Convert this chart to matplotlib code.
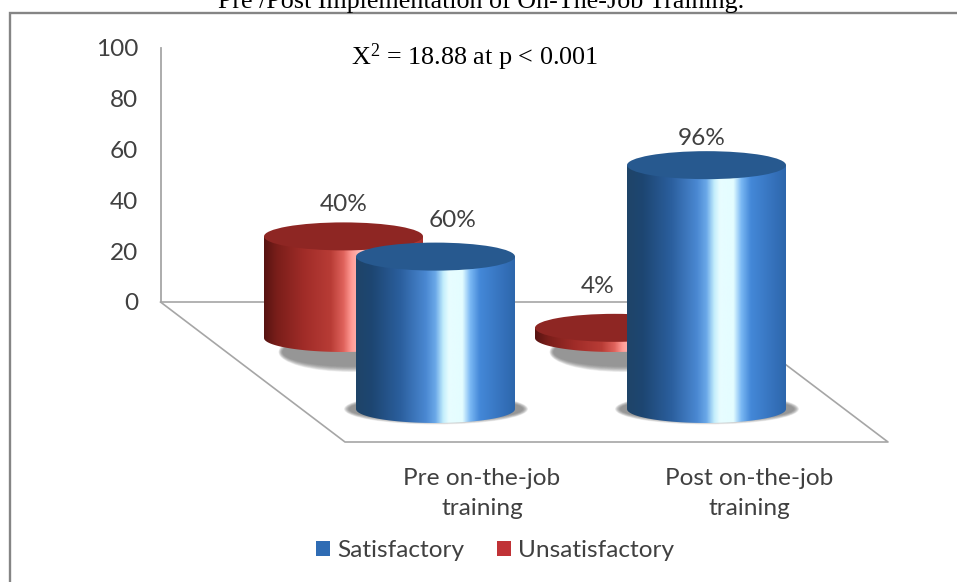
import numpy as np
import matplotlib
matplotlib.use("Agg")
import matplotlib.pyplot as plt
from matplotlib.colors import LinearSegmentedColormap
from matplotlib.patches import Ellipse, Polygon, Rectangle

# ---- data ----
categories = ["Pre on-the-job\ntraining", "Post on-the-job\ntraining"]
series_names = ["Satisfactory", "Unsatisfactory"]
satisfactory = [60, 96]
unsatisfactory = [40, 4]
y_ticks = [0, 20, 40, 60, 80, 100]
title = "Pre /Post Implementation of On-The-Job Training."
stat_text = r"$\mathregular{X^2}$ = 18.88 at p < 0.001"

# ---- layout (pixels of the 957x582 canvas) ----
W, H = 957, 582
PX_X0, PX_DX = 435.5, 271.0     # category 0 centre, category spacing
PX_Y0, PX_DY = 302.0, 2.54      # y=0 on the back wall, pixels per unit
RX, RY = 79.5 / PX_DX, 14.0 / PX_DY
FONT = "Lato"
FS = 17.6
TXT = "#404040"
GRID = "#a6a6a6"

plt.rcParams["mathtext.fontset"] = "custom"
plt.rcParams["mathtext.rm"] = "Liberation Serif"

fig = plt.figure(figsize=(W / 100, H / 100), dpi=100, facecolor="white")
ax = fig.add_axes([0, 0, 1, 1])
ax.set_xlim((0 - PX_X0) / PX_DX, (W - PX_X0) / PX_DX)
ax.set_ylim((PX_Y0 - H) / PX_DY, PX_Y0 / PX_DY)
ax.set_autoscale_on(False)
ax.patch.set_visible(False)


def dx(px):
    return (px - PX_X0) / PX_DX


def dy(py):
    return (PX_Y0 - py) / PX_DY


for s in ("top", "right", "bottom"):
    ax.spines[s].set_visible(False)
ax.spines["left"].set_position(("data", dx(160.5)))
ax.spines["left"].set_bounds(0, 100)
ax.spines["left"].set_color(GRID)
ax.spines["left"].set_linewidth(1.3)
ax.set_xticks([])
ax.set_yticks(y_ticks)
ax.tick_params(axis="y", length=0, pad=16, labelsize=FS, labelcolor=TXT)
for t in ax.get_yticklabels():
    t.set_fontfamily(FONT)

# outer frame: only the top and left edges fall inside the picture
ax.plot([dx(9.5), dx(9.5), dx(957)], [dy(582), dy(13.5), dy(13.5)],
        color="#858585", lw=1.7, zorder=1, solid_joinstyle="miter")

# floor
ax.plot([dx(160.5), dx(703)], [0, 0], color=GRID, lw=1.2, zorder=1)
ax.plot([dx(160.5), dx(345), dx(888), dx(703)], [0, dy(442), dy(442), 0],
        color=GRID, lw=1.2, zorder=1)

blue = LinearSegmentedColormap.from_list("b", [
    (0.0, "#1f4468"), (0.10, "#1d4672"), (0.28, "#2b5f9e"), (0.44, "#4a88d2"),
    (0.50, "#6aa8e8"), (0.55, "#c4eefc"), (0.585, "#e8fdff"), (0.67, "#e4fdff"),
    (0.72, "#7ab8f4"), (0.78, "#4488d8"), (1.0, "#2d66ac")])
red = LinearSegmentedColormap.from_list("r", [
    (0.0, "#571412"), (0.08, "#7a1e1a"), (0.25, "#a02c28"), (0.42, "#b83c36"),
    (0.50, "#df625b"), (0.55, "#ff9a94"), (0.62, "#ffc4c0"), (0.70, "#f07068"),
    (1.0, "#a8302c")])


def shadow(cx, base, rx, ry, sx, z):
    for k in np.linspace(1.0, 0.72, 14):
        ax.add_patch(Ellipse((cx + sx, base), 2 * rx * (k * 0.2 + 0.8), 2 * ry * k,
                             fc="#666666", ec="none", alpha=0.075, zorder=z))


def cylinder(cx, base, value, cmap, top_col, z):
    top = base + value
    t = np.linspace(np.pi, 2 * np.pi, 80)
    pts = [(cx - RX, top)] + list(zip(cx + RX * np.cos(t), base + RY * np.sin(t))) + [(cx + RX, top)]
    clip = Polygon(pts, closed=True, transform=ax.transData)
    grad = np.linspace(0, 1, 256).reshape(1, -1)
    im = ax.imshow(grad, cmap=cmap, extent=(cx - RX, cx + RX, base - RY, top + RY),
                   aspect="auto", zorder=z, interpolation="bilinear")
    im.set_clip_path(clip)
    ax.add_patch(Ellipse((cx, top), 2 * RX, 2 * RY, fc=top_col, ec="none", zorder=z + 0.1))


SERIES = [
    (unsatisfactory, -92 / PX_DX, dy(338), red, "#8e2623"),
    (satisfactory, 0.0, dy(409), blue, "#27598f"),
]
LABEL_OFFSETS = {(0, 0): (0.0, -32), (0, 1): (-16.5, -41), (1, 0): (17.5, -36), (1, 1): (-4.5, -27)}
z = 3
for si, (vals, xoff, base, cmap, topc) in enumerate(SERIES):
    for ci, v in enumerate(vals):
        cx = ci + xoff
        if si == 0:
            shadow(cx, base - 14 / PX_DY, 72 / PX_DX, 20 / PX_DY, 7 / PX_DX, z)
        else:
            shadow(cx, base, 92 / PX_DX, 15.5 / PX_DY, 0.5 / PX_DX, z)
        cylinder(cx, base, v, cmap, topc, z + 1)
        ox, oy = LABEL_OFFSETS[(si, ci)]
        ax.text(cx + ox / PX_DX, base + v - oy / PX_DY, f"{v}%", ha="center", va="center",
                fontsize=FS, family=FONT, color=TXT, zorder=20)
        z += 2

# category labels
CAT_X = [482, 749]
for lab, px in zip(categories, CAT_X):
    ax.text(dx(px), dy(493.5), lab, ha="center", va="center", fontsize=FS, family=FONT,
            color=TXT, linespacing=1.52, zorder=20)

# texts
ax.text(dx(481), dy(8), title, ha="center", va="baseline", family="Liberation Serif",
        fontsize=18.7, color="black", zorder=20)
ax.text(dx(351), dy(65), stat_text, ha="left", va="baseline", family="Liberation Serif",
        fontsize=18.8, color="black", zorder=20)

# legend
handles = [Rectangle((0, 0), 1, 1, fc="#2f6cb4", ec="none"),
           Rectangle((0, 0), 1, 1, fc="#c03236", ec="none")]
leg = fig.legend(handles, series_names, ncol=2, frameon=False,
                 loc="center", bbox_to_anchor=(495 / W, 1 - 550.5 / H),
                 handlelength=0.57, handleheight=0.6, handletextpad=0.29, columnspacing=1.35,
                 prop={"family": FONT, "size": FS}, labelcolor=TXT, borderpad=0)

fig.savefig("out.png", dpi=100, facecolor="white")
